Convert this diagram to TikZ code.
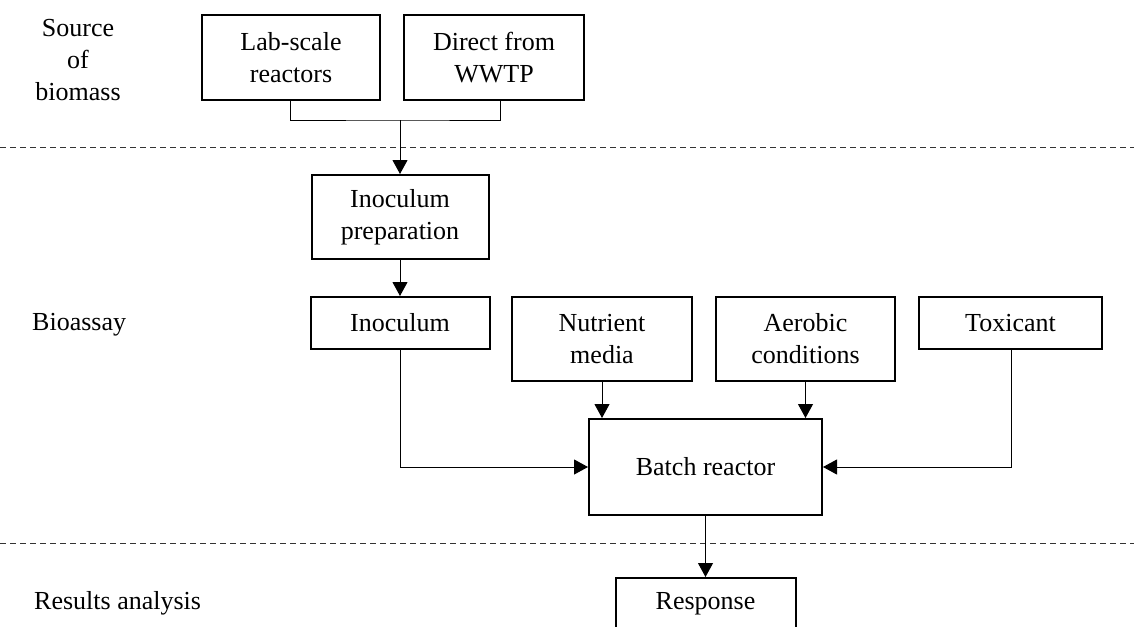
\documentclass[tikz,border=0pt]{standalone}
\usepackage{fontspec}
\setmainfont{Liberation Serif}
\usetikzlibrary{arrows.meta}
\tikzset{
  box/.style={draw, line width=2pt, inner sep=0pt, align=center},
  conn/.style={line width=1pt},
  arr/.style={line width=1pt, -{Triangle[width=15pt,length=14pt]}},
  sep/.style={line width=1pt, black!80, dash pattern=on 6pt off 4pt},
  lbl/.style={inner sep=0pt, align=center},
}
\begin{document}
\begin{tikzpicture}[x=1pt,y=-1pt, font=\fontsize{26}{32}\selectfont]
\useasboundingbox (0,0) rectangle (1134,626);
\clip (0,0) rectangle (1134,626);
\fill[white] (0,0) rectangle (1134,626);

% separators
\draw[sep] (0,147) -- (1134,147);
\draw[sep] (0,543) -- (1134,543);

% row labels
\node[lbl] (src) at (78,60) {Source\\of\\biomass};
\node[lbl, anchor=west] (bio) at (32,325) {Bioassay};
\node[lbl, anchor=west] (res) at (34,603) {Results analysis};

% boxes
\node[box, minimum width=178pt, minimum height=85pt] (lab) at (291,57.5) {Lab-scale\\reactors};
\node[box, minimum width=180pt, minimum height=85pt] (wwtp) at (494,57.5) {Direct from\\WWTP};
\node[box, minimum width=177pt, minimum height=84pt] (prep) at (400,217) {Inoculum\\preparation};
\node[box, minimum width=179pt, minimum height=52pt] (inoc) at (400,323) {Inoculum};
\node[box, minimum width=180pt, minimum height=84pt] (nutr) at (602,339) {Nutrient\\media};
\node[box, minimum width=179pt, minimum height=84pt] (aer) at (805.5,339) {Aerobic\\conditions};
\node[box, minimum width=183pt, minimum height=52pt] (tox) at (1010.5,323) {Toxicant};
\node[box, minimum width=233pt, minimum height=96pt] (batch) at (705.5,467) {Batch reactor};
\node[box, minimum width=180pt, minimum height=52pt] (resp) at (705.5,604) {Response};

% connectors
\coordinate (j) at (400,120);
\draw[conn] ([xshift=-1pt]lab.south) |- (j) -| ([xshift=6pt]wwtp.south);
\draw[arr] (j) -- (prep.north);
\draw[arr] (prep.south) -- (inoc.north);
\draw[arr] (inoc.south) |- (batch.west);
\draw[arr] ([xshift=1pt]tox.south) |- (batch.east);
\draw[arr] (nutr.south) -- (nutr.south |- batch.north);
\draw[arr] (aer.south) -- (aer.south |- batch.north);
\draw[arr] (batch.south) -- (resp.north);
\end{tikzpicture}
\end{document}
